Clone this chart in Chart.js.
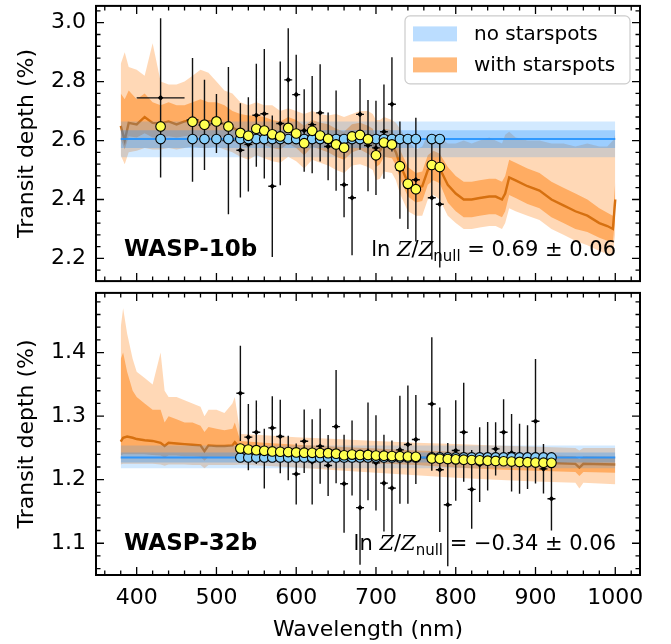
<!DOCTYPE html>
<html>
<head>
<meta charset="utf-8">
<script src="https://cdn.jsdelivr.net/npm/chart.js@4.4.0/dist/chart.umd.min.js"></script>
<style>
    body { margin: 0; background: #fff; }
    #wrap { position: relative; width: 671px; height: 644px; }
    #topChart { position: absolute; left: 0; top: 0; }
    #botChart { position: absolute; left: 0; top: 287px; }
</style>
</head>
<body>
<div id="wrap">
    <canvas id="topChart" width="671" height="287"></canvas>
    <canvas id="botChart" width="671" height="357"></canvas>
</div>
<script>
// shared axis ticks
const xMajor = [400, 500, 600, 700, 800, 900, 1000];
const xMinor = [360, 380, 420, 440, 460, 480, 520, 540, 560, 580, 620, 640, 660, 680, 720, 740, 760, 780, 820, 840, 860, 880, 920, 940, 960, 980, 1020];
const xTitle = 'Wavelength (nm)';
const yTitle = 'Transit depth (%)';
const legendLabels = ['no starspots', 'with starspots'];
const planetNames = ['WASP-10b', 'WASP-32b'];
const evidenceText = ['0.69 ± 0.06', '−0.34 ± 0.06'];

// ---- WASP-10b ----
const w10YMajor = [2.2, 2.4, 2.6, 2.8, 3.0];
const w10YMinor = [2.16, 2.24, 2.28, 2.32, 2.36, 2.44, 2.48, 2.52, 2.56, 2.64, 2.68, 2.72, 2.76, 2.84, 2.88, 2.92, 2.96, 3.04];

const w10Wave = [430, 470, 485, 500, 515, 530, 540, 550, 560, 570, 580, 590, 600, 610, 620, 630, 640, 650, 660, 670, 680, 690, 700, 710, 720, 730, 740, 750, 770, 780];
const w10Half = [30, 7.5, 7.5, 7.5, 7.5, 5, 5, 5, 5, 5, 5, 5, 5, 5, 5, 5, 5, 5, 5, 5, 5, 5, 5, 5, 5, 5, 5, 5, 5, 5];
const w10Depth = [2.745, 2.67, 2.653, 2.658, 2.60, 2.567, 2.587, 2.686, 2.691, 2.445, 2.658, 2.806, 2.756, 2.634, 2.654, 2.694, 2.58, 2.60, 2.45, 2.406, 2.689, 2.583, 2.575, 2.63, 2.723, 2.50, 2.445, 2.467, 2.406, 2.384];
const w10Err = [0.27, 0.21, 0.153, 0.10, 0.25, 0.16, 0.16, 0.175, 0.22, 0.24, 0.21, 0.175, 0.135, 0.14, 0.165, 0.165, 0.115, 0.17, 0.11, 0.195, 0.12, 0.155, 0.16, 0.16, 0.16, 0.165, 0.145, 0.21, 0.21, 0.215];
const w10NoSpotBin = [2.605, 2.605, 2.605, 2.605, 2.605, 2.605, 2.605, 2.605, 2.605, 2.605, 2.605, 2.605, 2.605, 2.605, 2.605, 2.605, 2.605, 2.605, 2.605, 2.605, 2.605, 2.605, 2.605, 2.605, 2.605, 2.605, 2.605, 2.605, 2.605, 2.605];
const w10SpotBin = [2.648, 2.664, 2.654, 2.665, 2.648, 2.626, 2.616, 2.64, 2.634, 2.621, 2.614, 2.643, 2.624, 2.591, 2.633, 2.617, 2.606, 2.587, 2.576, 2.614, 2.619, 2.604, 2.55, 2.593, 2.587, 2.513, 2.453, 2.435, 2.517, 2.51];

const w10FlatWave = [380, 1000];
const w10FlatMed = [2.605, 2.605];
const w10FlatLo1 = [2.575, 2.575];
const w10FlatHi1 = [2.635, 2.635];
const w10FlatLo2 = [2.543, 2.543];
const w10FlatHi2 = [2.665, 2.665];

const w10ModelWave = [380, 385, 390, 400, 410, 420, 430, 440, 450, 460, 470, 480, 490, 500, 510, 520, 530, 540, 550, 560, 570, 580, 590, 600, 610, 620, 630, 640, 650, 660, 670, 680, 690, 696, 700, 705, 710, 720, 725, 730, 740, 750, 758, 765, 772, 780, 790, 800, 810, 820, 830, 842, 850, 858, 862, 867, 875, 890, 905, 920, 935, 950, 965, 980, 990, 997, 1000];
const w10SpotMed = [2.650, 2.600, 2.660, 2.655, 2.680, 2.660, 2.658, 2.665, 2.655, 2.665, 2.668, 2.660, 2.665, 2.668, 2.655, 2.645, 2.628, 2.620, 2.635, 2.630, 2.620, 2.615, 2.635, 2.622, 2.595, 2.625, 2.615, 2.605, 2.590, 2.580, 2.608, 2.615, 2.600, 2.590, 2.555, 2.565, 2.590, 2.585, 2.560, 2.520, 2.458, 2.440, 2.445, 2.500, 2.515, 2.505, 2.450, 2.420, 2.400, 2.400, 2.405, 2.410, 2.410, 2.400, 2.420, 2.475, 2.465, 2.445, 2.430, 2.400, 2.380, 2.360, 2.345, 2.320, 2.310, 2.300, 2.400];
const w10SpotHi1 = [2.76, 2.74, 2.77, 2.74, 2.76, 2.73, 2.72, 2.73, 2.72, 2.72, 2.73, 2.74, 2.73, 2.73, 2.72, 2.70, 2.69, 2.685, 2.685, 2.68, 2.67, 2.665, 2.68, 2.67, 2.65, 2.67, 2.66, 2.655, 2.64, 2.63, 2.655, 2.66, 2.65, 2.64, 2.61, 2.615, 2.64, 2.635, 2.61, 2.57, 2.51, 2.49, 2.495, 2.55, 2.565, 2.555, 2.51, 2.48, 2.46, 2.46, 2.465, 2.47, 2.47, 2.46, 2.48, 2.535, 2.525, 2.505, 2.49, 2.46, 2.44, 2.42, 2.40, 2.37, 2.355, 2.345, 2.46];
const w10SpotLo1 = [2.605, 2.57, 2.615, 2.61, 2.625, 2.61, 2.61, 2.615, 2.61, 2.615, 2.62, 2.615, 2.615, 2.62, 2.61, 2.60, 2.585, 2.575, 2.59, 2.585, 2.575, 2.57, 2.59, 2.575, 2.55, 2.58, 2.57, 2.56, 2.545, 2.535, 2.56, 2.57, 2.555, 2.545, 2.51, 2.52, 2.545, 2.54, 2.515, 2.47, 2.41, 2.39, 2.395, 2.45, 2.465, 2.455, 2.39, 2.36, 2.34, 2.34, 2.345, 2.35, 2.35, 2.34, 2.36, 2.415, 2.405, 2.385, 2.37, 2.34, 2.32, 2.30, 2.29, 2.27, 2.26, 2.255, 2.34];
const w10SpotHi2 = [2.86, 2.90, 2.85, 2.84, 2.82, 2.93, 2.80, 2.79, 2.79, 2.80, 2.82, 2.84, 2.83, 2.80, 2.77, 2.76, 2.73, 2.72, 2.73, 2.72, 2.72, 2.70, 2.71, 2.70, 2.69, 2.70, 2.69, 2.685, 2.69, 2.68, 2.69, 2.70, 2.70, 2.69, 2.67, 2.67, 2.68, 2.67, 2.66, 2.64, 2.60, 2.57, 2.58, 2.62, 2.62, 2.61, 2.59, 2.59, 2.60, 2.59, 2.60, 2.61, 2.60, 2.59, 2.62, 2.63, 2.61, 2.60, 2.60, 2.59, 2.59, 2.58, 2.59, 2.58, 2.58, 2.60, 2.62];
const w10SpotLo2 = [2.55, 2.52, 2.56, 2.565, 2.575, 2.57, 2.57, 2.575, 2.57, 2.575, 2.58, 2.575, 2.575, 2.58, 2.57, 2.56, 2.545, 2.535, 2.55, 2.54, 2.53, 2.525, 2.545, 2.53, 2.505, 2.535, 2.525, 2.515, 2.50, 2.49, 2.515, 2.52, 2.51, 2.50, 2.465, 2.47, 2.495, 2.49, 2.465, 2.42, 2.36, 2.345, 2.345, 2.40, 2.415, 2.40, 2.345, 2.32, 2.30, 2.30, 2.305, 2.31, 2.31, 2.30, 2.32, 2.37, 2.36, 2.345, 2.33, 2.30, 2.28, 2.26, 2.245, 2.225, 2.215, 2.21, 2.29];

// ---- WASP-32b ----
const w32YMajor = [1.1, 1.2, 1.3, 1.4];
const w32YMinor = [1.06, 1.08, 1.12, 1.14, 1.16, 1.18, 1.22, 1.24, 1.26, 1.28, 1.32, 1.34, 1.36, 1.38, 1.42, 1.44, 1.46, 1.48];

const w32Wave = [530, 540, 550, 560, 570, 580, 590, 600, 610, 620, 630, 640, 650, 660, 670, 680, 690, 700, 710, 720, 730, 740, 750, 770, 780, 790, 800, 810, 820, 830, 840, 850, 860, 870, 880, 890, 900, 910, 920];
const w32Half = [5, 5, 5, 5, 5, 5, 5, 5, 5, 5, 5, 5, 5, 5, 5, 5, 5, 5, 5, 5, 5, 5, 5, 5, 5, 5, 5, 5, 5, 5, 5, 5, 5, 5, 5, 5, 5, 5, 5];
const w32Depth = [1.336, 1.267, 1.2747, 1.233, 1.2815, 1.268, 1.234, 1.209, 1.2606, 1.228, 1.2527, 1.2224, 1.2836, 1.1936, 1.234, 1.156, 1.2446, 1.2265, 1.1946, 1.1868, 1.247, 1.2553, 1.2632, 1.3192, 1.2156, 1.1606, 1.2459, 1.2747, 1.1847, 1.2237, 1.2368, 1.2485, 1.2747, 1.2423, 1.2329, 1.2355, 1.292, 1.2171, 1.17];
const w32Err = [0.075, 0.052, 0.05, 0.047, 0.05, 0.058, 0.035, 0.048, 0.05, 0.067, 0.059, 0.048, 0.089, 0.077, 0.059, 0.09, 0.077, 0.075, 0.076, 0.075, 0.085, 0.093, 0.07, 0.105, 0.098, 0.097, 0.079, 0.078, 0.062, 0.059, 0.054, 0.042, 0.052, 0.061, 0.055, 0.05, 0.098, 0.039, 0.05];
const w32NoSpotBin = [1.235, 1.235, 1.235, 1.235, 1.235, 1.235, 1.235, 1.235, 1.235, 1.235, 1.235, 1.235, 1.235, 1.235, 1.235, 1.235, 1.235, 1.235, 1.235, 1.235, 1.235, 1.235, 1.235, 1.235, 1.235, 1.235, 1.235, 1.235, 1.235, 1.235, 1.235, 1.235, 1.235, 1.235, 1.235, 1.235, 1.235, 1.235, 1.235];
const w32SpotBin = [1.249, 1.2475, 1.2465, 1.2455, 1.2445, 1.244, 1.2435, 1.243, 1.2425, 1.2423, 1.242, 1.2418, 1.241, 1.2385, 1.2395, 1.239, 1.2388, 1.238, 1.2378, 1.2372, 1.237, 1.2365, 1.236, 1.2335, 1.233, 1.2325, 1.232, 1.2315, 1.231, 1.2305, 1.23, 1.2295, 1.229, 1.2285, 1.228, 1.2275, 1.227, 1.2268, 1.2265];

const w32FlatWave = [380, 1000];
const w32FlatMed = [1.235, 1.235];
const w32FlatLo1 = [1.227, 1.227];
const w32FlatHi1 = [1.243, 1.243];
const w32FlatLo2 = [1.218, 1.218];
const w32FlatHi2 = [1.254, 1.254];

const w32ModelWave = [380, 383, 388, 395, 400, 410, 420, 430, 435, 440, 450, 460, 470, 480, 485, 490, 500, 510, 520, 523, 530, 560, 600, 650, 700, 750, 800, 850, 900, 950, 955, 960, 1000];
const w32SpotMed = [1.260, 1.266, 1.268, 1.266, 1.264, 1.262, 1.261, 1.258, 1.253, 1.258, 1.257, 1.256, 1.255, 1.254, 1.245, 1.254, 1.253, 1.253, 1.254, 1.259, 1.249, 1.247, 1.244, 1.241, 1.238, 1.235, 1.232, 1.229, 1.227, 1.225, 1.219, 1.225, 1.224];
const w32SpotHi1 = [1.39, 1.40, 1.37, 1.34, 1.33, 1.32, 1.31, 1.31, 1.29, 1.30, 1.295, 1.29, 1.29, 1.285, 1.275, 1.283, 1.28, 1.278, 1.28, 1.29, 1.261, 1.258, 1.255, 1.252, 1.249, 1.246, 1.244, 1.241, 1.239, 1.237, 1.232, 1.237, 1.236];
const w32SpotLo1 = [1.238, 1.240, 1.240, 1.240, 1.240, 1.240, 1.239, 1.238, 1.235, 1.238, 1.238, 1.237, 1.237, 1.236, 1.230, 1.236, 1.236, 1.236, 1.236, 1.237, 1.237, 1.235, 1.232, 1.229, 1.226, 1.223, 1.219, 1.216, 1.214, 1.212, 1.206, 1.212, 1.211];
const w32SpotHi2 = [1.44, 1.47, 1.43, 1.39, 1.37, 1.36, 1.35, 1.40, 1.34, 1.33, 1.33, 1.325, 1.32, 1.315, 1.30, 1.31, 1.31, 1.305, 1.32, 1.33, 1.272, 1.27, 1.267, 1.264, 1.261, 1.258, 1.256, 1.254, 1.252, 1.25, 1.246, 1.25, 1.25];
const w32SpotLo2 = [1.224, 1.225, 1.225, 1.225, 1.225, 1.225, 1.225, 1.224, 1.222, 1.224, 1.224, 1.224, 1.223, 1.223, 1.218, 1.223, 1.223, 1.223, 1.223, 1.223, 1.224, 1.222, 1.219, 1.215, 1.211, 1.207, 1.203, 1.200, 1.197, 1.195, 1.186, 1.195, 1.193];

const orangeLight = 'rgba(255, 127, 14, 0.3)';
const orangeMid = 'rgba(255, 127, 14, 0.5)';
const orangeLine = 'rgb(214, 112, 16)';
const blueLight = 'rgba(30, 144, 255, 0.2)';
const blueMid = 'rgba(30, 144, 255, 0.3)';
const blueLine = 'rgba(30, 144, 255, 0.85)';

Chart.defaults.font.family = '"DejaVu Sans"';
Chart.defaults.color = '#000';

function pts(xs, ys) {
    return xs.map((x, i) => ({ x: x, y: ys[i] }));
}

// vertical error bars as line pieces broken by nulls
function yErrPieces(xs, ys, errs) {
    const out = [];
    xs.forEach((x, i) => {
        out.push({ x: x, y: ys[i] - errs[i] }, { x: x, y: ys[i] + errs[i] }, { x: x, y: null });
    });
    return out;
}

function xErrPieces(xs, ys, half) {
    const out = [];
    xs.forEach((x, i) => {
        out.push({ x: x - half[i], y: ys[i] }, { x: x + half[i], y: ys[i] }, { x: x, y: null });
    });
    return out;
}

function band(xs, ys, color, target, order) {
    return {
        data: pts(xs, ys), fill: target, order: order, backgroundColor: color,
        borderColor: 'rgba(0,0,0,0)', borderWidth: 0, pointRadius: 0, tension: 0
    };
}

function edge(xs, ys, order) {
    return {
        data: pts(xs, ys), fill: false, order: order,
        borderColor: 'rgba(0,0,0,0)', borderWidth: 0, pointRadius: 0
    };
}

function buildDatasets(p) {
    return [
        band(p.modelWave, p.hi2, orangeLight, 1, 14),
        edge(p.modelWave, p.lo2, 14),
        band(p.modelWave, p.hi1, orangeMid, 3, 13),
        edge(p.modelWave, p.lo1, 13),
        { data: pts(p.modelWave, p.med), borderColor: orangeLine, borderWidth: 2.4, pointRadius: 0, fill: false, order: 12 },
        band(p.flatWave, p.flatHi2, blueLight, 6, 11),
        edge(p.flatWave, p.flatLo2, 11),
        band(p.flatWave, p.flatHi1, blueMid, 8, 10),
        edge(p.flatWave, p.flatLo1, 10),
        { data: pts(p.flatWave, p.flatMed), borderColor: blueLine, borderWidth: 2, pointRadius: 0, fill: false, order: 9 },
        { data: yErrPieces(p.wave, p.depth, p.err), borderColor: '#111', borderWidth: 1.4, pointRadius: 0, spanGaps: false, fill: false, order: 8 },
        { data: xErrPieces(p.wave, p.depth, p.half), borderColor: '#111', borderWidth: 1.4, pointRadius: 0, spanGaps: false, fill: false, order: 8 },
        { data: pts(p.wave, p.depth), showLine: false, pointStyle: 'rectRot', pointRadius: 2.8, backgroundColor: '#000', pointBackgroundColor: '#000', pointBorderWidth: 0, order: 7 },
        { data: pts(p.wave, p.noSpot), showLine: false, pointRadius: 4.8, backgroundColor: '#87cefa', pointBackgroundColor: '#87cefa', pointBorderColor: '#000', pointBorderWidth: 1.1, order: 6 },
        { data: pts(p.wave, p.spot), showLine: false, pointRadius: 4.8, backgroundColor: '#ffff50', pointBackgroundColor: '#ffff50', pointBorderColor: '#000', pointBorderWidth: 1.1, order: 5 }
    ];
}

function drawEvidence(ctx, xRight, yBase, value) {
    const parts = [
        { t: 'ln ', f: '21px "DejaVu Sans"', dy: 0 },
        { t: 'Z', f: 'italic 21px "DejaVu Serif"', dy: 0 },
        { t: '/', f: '21px "DejaVu Sans"', dy: 0 },
        { t: 'Z', f: 'italic 21px "DejaVu Serif"', dy: 0 },
        { t: 'null', f: '15px "DejaVu Sans"', dy: 5 },
        { t: ' = ' + value, f: '21px "DejaVu Sans"', dy: 0 }
    ];
    let total = 0;
    parts.forEach(s => { ctx.font = s.f; s.w = ctx.measureText(s.t).width; total += s.w; });
    let x = xRight - total;
    ctx.textAlign = 'left';
    ctx.textBaseline = 'alphabetic';
    parts.forEach(s => { ctx.font = s.f; ctx.fillText(s.t, x, yBase + s.dy); x += s.w; });
}

function makePanel(canvasId, p) {
    const decor = {
        id: 'decor',
        afterDatasetsDraw(chart) {
            const { ctx, chartArea: a } = chart;
            const xs = chart.scales.x, ys = chart.scales.y;
            ctx.save();
            ctx.strokeStyle = '#000';
            ctx.lineWidth = 1.3;
            ctx.beginPath();
            const xt = (vals, len) => vals.forEach(v => {
                const px = xs.getPixelForValue(v);
                if (px <= a.left || px >= a.right) return;
                ctx.moveTo(px, a.bottom); ctx.lineTo(px, a.bottom - len);
                ctx.moveTo(px, a.top); ctx.lineTo(px, a.top + len);
            });
            const yt = (vals, len) => vals.forEach(v => {
                const py = ys.getPixelForValue(v);
                if (py <= a.top || py >= a.bottom) return;
                ctx.moveTo(a.left, py); ctx.lineTo(a.left + len, py);
                ctx.moveTo(a.right, py); ctx.lineTo(a.right - len, py);
            });
            xt(xMajor, 8); xt(xMinor, 4.5);
            yt(p.yMajor, 8); yt(p.yMinor, 4.5);
            ctx.stroke();
            ctx.lineWidth = 2;
            ctx.strokeRect(a.left, a.top, a.right - a.left, a.bottom - a.top);

            // panel labels
            ctx.fillStyle = '#000';
            ctx.font = 'bold 23px "DejaVu Sans"';
            ctx.textAlign = 'left';
            ctx.textBaseline = 'alphabetic';
            ctx.fillText(p.name, a.left + 28, a.bottom - 25);
            drawEvidence(ctx, a.right - 24, a.bottom - 25, p.evidence);

            if (p.legend) {
                const bx = a.right - 235, by = a.top + 10, bw = 225, bh = 68;
                ctx.beginPath();
                ctx.roundRect(bx, by, bw, bh, 5);
                ctx.fillStyle = 'rgba(255,255,255,0.8)';
                ctx.fill();
                ctx.strokeStyle = '#cccccc';
                ctx.lineWidth = 1.2;
                ctx.stroke();
                const swatches = ['rgba(30, 144, 255, 0.3)', 'rgba(255, 127, 14, 0.55)'];
                ctx.font = '20px "DejaVu Sans"';
                ctx.textBaseline = 'middle';
                legendLabels.forEach((lab, i) => {
                    const cy = by + 18 + i * 31;
                    ctx.fillStyle = swatches[i];
                    ctx.fillRect(bx + 8, cy - 7.5, 44, 15);
                    ctx.fillStyle = '#000';
                    ctx.fillText(lab, bx + 69, cy + 1);
                });
            }
            ctx.restore();
        }
    };

    return new Chart(document.getElementById(canvasId), {
        type: 'line',
        data: { datasets: buildDatasets(p) },
        options: {
            responsive: false,
            animation: false,
            events: [],
            layout: { padding: { left: 0, right: 31, top: p.padTop, bottom: p.padBottom } },
            plugins: { legend: { display: false }, tooltip: { enabled: false } },
            scales: {
                x: {
                    type: 'linear', min: 349, max: 1031, display: p.showX,
                    grid: { display: false, drawTicks: false }, border: { display: false },
                    afterBuildTicks: s => { s.ticks = xMajor.map(v => ({ value: v })); },
                    afterFit: s => { s.height = p.xHeight; s.paddingLeft = 0; s.paddingRight = 0; },
                    ticks: { padding: 10, maxRotation: 0, autoSkip: false, font: { size: 22 }, color: '#000', callback: v => String(v) },
                    title: { display: true, text: xTitle, font: { size: 22 }, color: '#000', padding: { top: 0, bottom: 1 } }
                },
                y: {
                    min: p.yMin, max: p.yMax,
                    grid: { display: false, drawTicks: false }, border: { display: false },
                    afterBuildTicks: s => { s.ticks = p.yMajor.map(v => ({ value: v })); },
                    afterFit: s => { s.width = 96; s.paddingTop = 0; s.paddingBottom = 0; },
                    ticks: { padding: 10, autoSkip: false, font: { size: 22 }, color: '#000', callback: v => v.toFixed(1) },
                    title: { display: true, text: yTitle, font: { size: 22 }, color: '#000', padding: { top: 14, bottom: 0 } }
                }
            }
        },
        plugins: [decor]
    });
}

makePanel('topChart', {
    wave: w10Wave, half: w10Half, depth: w10Depth, err: w10Err, noSpot: w10NoSpotBin, spot: w10SpotBin,
    flatWave: w10FlatWave, flatMed: w10FlatMed, flatLo1: w10FlatLo1, flatHi1: w10FlatHi1, flatLo2: w10FlatLo2, flatHi2: w10FlatHi2,
    modelWave: w10ModelWave, med: w10SpotMed, lo1: w10SpotLo1, hi1: w10SpotHi1, lo2: w10SpotLo2, hi2: w10SpotHi2,
    yMajor: w10YMajor, yMinor: w10YMinor, yMin: 2.123, yMax: 3.057,
    name: planetNames[0], evidence: evidenceText[0], legend: true,
    showX: false, xHeight: 0, padTop: 3, padBottom: 4
});

makePanel('botChart', {
    wave: w32Wave, half: w32Half, depth: w32Depth, err: w32Err, noSpot: w32NoSpotBin, spot: w32SpotBin,
    flatWave: w32FlatWave, flatMed: w32FlatMed, flatLo1: w32FlatLo1, flatHi1: w32FlatHi1, flatLo2: w32FlatLo2, flatHi2: w32FlatHi2,
    modelWave: w32ModelWave, med: w32SpotMed, lo1: w32SpotLo1, hi1: w32SpotHi1, lo2: w32SpotLo2, hi2: w32SpotHi2,
    yMajor: w32YMajor, yMinor: w32YMinor, yMin: 1.05, yMax: 1.494,
    name: planetNames[1], evidence: evidenceText[1], legend: false,
    showX: true, xHeight: 69, padTop: 5, padBottom: 0
});
</script>
</body>
</html>
